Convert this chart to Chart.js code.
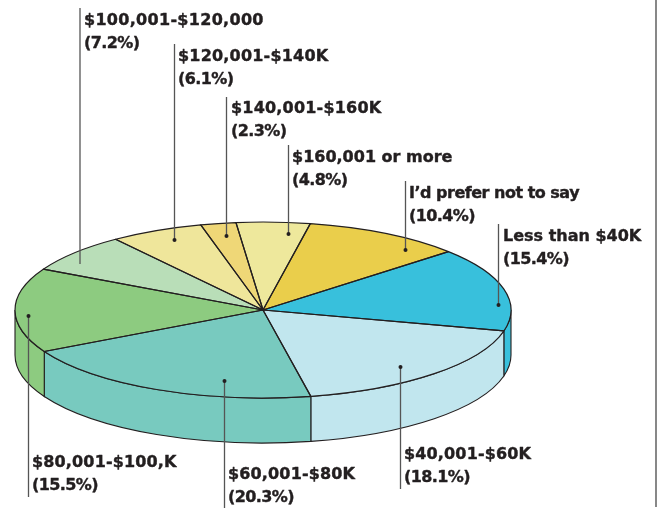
<!DOCTYPE html>
<html><head><meta charset="utf-8">
<style>html,body{margin:0;padding:0;background:#fff}#w{position:relative;width:659px;height:508px}</style>
<script src="https://cdn.jsdelivr.net/npm/chart.js@4"></script>
</head><body><div id="w"><canvas id="c" width="659" height="508"></canvas></div>
<script>
const categories = ["Less than $40K","$40,001-$60K","$60,001-$80K","$80,001-$100,K","$100,001-$120,000","$120,001-$140K","$140,001-$160K","$160,001 or more","I\u2019d prefer not to say"];
const shares = [15.4,18.1,20.3,15.5,7.2,6.1,2.3,4.8,10.4];
const colors = ["#38C0DC","#C1E6EE","#78CABF","#8DCB80","#B9DEB8","#EFE69B","#EFD777","#EEE89C","#EACE4B"];
// annotation placement: leader x, leader y from, leader y to, label x, first-line y, tracking
const leaderX = [498.5,400.5,224.5,28.5,80,174.5,226.5,288.5,405.5];
const leaderA = [224,489,508,497,8,44,97,145,181];
const leaderB = [305,367,381,316,264,240,236,234,250];
const labelX  = [503,404,228,32,84,178,231,292,409];
const labelY  = [237,455,475,463,21,57,109,158,194];
const tracking = [0,0.15,0.15,0.15,0.3,0.2,0.2,0,-0.5];
const INK = "#231F20", LEADER = "#555555", TILT = 88/248, DEPTH = 45, CY = 310, LINE_GAP = 23;

const tiltPlugin = {
  id:"tilt",
  beforeDatasetsDraw(chart){
    const ctx = chart.ctx, arcs = chart.getDatasetMeta(0).data;
    ctx.save();
    arcs.forEach((a,i)=>{
      const rx=a.outerRadius, ry=rx*TILT;
      for(const k of [-2,0,2]){
        const s=Math.max(a.startAngle+k*Math.PI,0), e=Math.min(a.endAngle+k*Math.PI,Math.PI);
        if(e<=s) continue;
        ctx.beginPath();
        ctx.ellipse(a.x,CY,rx,ry,0,s,e);
        ctx.ellipse(a.x,CY+DEPTH,rx,ry,0,e,s,true);
        ctx.closePath();
        ctx.fillStyle=colors[i]; ctx.fill();
        ctx.strokeStyle=INK; ctx.lineWidth=1.1; ctx.stroke();
      }
    });
    ctx.restore();
    const y0 = arcs[0].y;
    ctx.save();
    ctx.translate(0,CY); ctx.scale(1,TILT); ctx.translate(0,-y0);
  },
  afterDatasetsDraw(chart){
    const ctx = chart.ctx, arcs = chart.getDatasetMeta(0).data;
    arcs.forEach(a=>{
      ctx.beginPath();
      ctx.moveTo(a.x,a.y);
      ctx.arc(a.x,a.y,a.outerRadius,a.startAngle,a.endAngle);
      ctx.closePath();
      ctx.save();
      ctx.setTransform(1,0,0,1,0,0);
      ctx.strokeStyle=INK; ctx.lineWidth=1.2; ctx.lineJoin="round"; ctx.stroke();
      ctx.restore();
    });
    ctx.restore();
    ctx.save();
    categories.forEach((c,i)=>{
      ctx.beginPath();
      ctx.moveTo(leaderX[i],leaderA[i]); ctx.lineTo(leaderX[i],leaderB[i]);
      ctx.strokeStyle=LEADER; ctx.lineWidth=1.3; ctx.stroke();
      if(i!==4){
        ctx.beginPath(); ctx.arc(leaderX[i],leaderB[i],2,0,Math.PI*2);
        ctx.fillStyle=INK; ctx.fill();
      }
      ctx.fillStyle=INK; ctx.strokeStyle=INK; ctx.lineWidth=0.4; ctx.lineJoin="round";
      ctx.font='bold 16px "DejaVu Sans"'; ctx.textBaseline="middle"; ctx.textAlign="left";
      ctx.letterSpacing=tracking[i]+"px";
      ctx.fillText(c,labelX[i],labelY[i]); ctx.strokeText(c,labelX[i],labelY[i]);
      const p="("+shares[i].toFixed(1)+"%)";
      ctx.letterSpacing="-0.6px";
      ctx.fillText(p,labelX[i],labelY[i]+LINE_GAP); ctx.strokeText(p,labelX[i],labelY[i]+LINE_GAP);
    });
    ctx.letterSpacing="0px";
    ctx.beginPath(); ctx.moveTo(656,0); ctx.lineTo(656,507);
    ctx.strokeStyle=LEADER; ctx.lineWidth=1.4; ctx.stroke();
    ctx.restore();
  }
};

new Chart(document.getElementById("c"),{
  type:"pie",
  data:{labels:categories,datasets:[{data:shares,backgroundColor:colors,borderWidth:0}]},
  options:{
    responsive:false,animation:false,
    rotation:48.4,
    layout:{padding:{left:15,right:148,top:0,bottom:0}},
    plugins:{legend:{display:false},tooltip:{enabled:false}}
  },
  plugins:[tiltPlugin]
});
</script></body></html>
